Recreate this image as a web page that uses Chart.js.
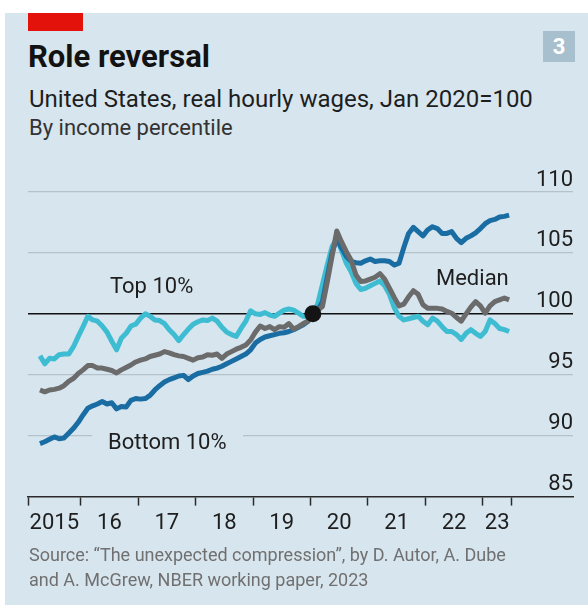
<!DOCTYPE html>
<html>
<head>
<meta charset="utf-8">
<script src="https://cdn.jsdelivr.net/npm/chart.js@4.4.1/dist/chart.umd.min.js"></script>
<style>
  html, body { margin: 0; padding: 0; background: #fff; }
  body { width: 588px; height: 610px; position: relative; overflow: hidden; font-family: Roboto, "Noto Sans", sans-serif; }
  #panel { position: absolute; left: 5px; top: 13px; width: 583px; height: 592px; background: #d7e5ee; }
  .t { position: absolute; white-space: nowrap; line-height: 1; }
  #bar { position: absolute; left: 28px; top: 13px; width: 55px; height: 18px; background: #e3120b; }
  #title { left: 28px; top: 41px; font-size: 31px; font-weight: 700; color: #121212; }
  #sub { left: 29px; top: 87px; font-size: 24px; color: #1e1e1e; }
  #sub2 { left: 29px; top: 117px; font-size: 22px; color: #333; }
  #num { position: absolute; left: 543px; top: 31px; width: 32px; height: 31px; background: #a8bfce; color: #fff; font-weight: 700; font-size: 22px; line-height: 31px; text-align: center; }
  #wrap { position: absolute; left: 0; top: 150px; width: 588px; height: 395px; }
  .lab { font-size: 22px; color: #1e1e1e; }
  #lTop { left: 110px; top: 275px; }
  #lMed { left: 436px; top: 267px; }
  #lBot { left: 92px; top: 431px; padding: 0 16px; background: #d7e5ee; }
  #src { left: 29px; top: 542px; font-size: 18px; color: #707070; line-height: 25px; }
</style>
</head>
<body>
<div id="panel"></div>
<div id="bar"></div>
<div class="t" id="title">Role reversal</div>
<div class="t" id="sub">United States, real hourly wages, Jan 2020=100</div>
<div class="t" id="sub2">By income percentile</div>
<div id="num">3</div>
<div id="wrap"><canvas id="grafico"></canvas></div>
<div class="t lab" id="lTop">Top 10%</div>
<div class="t lab" id="lMed">Median</div>
<div class="t lab" id="lBot">Bottom 10%</div>
<div class="t" id="src">Source: “The unexpected compression”, by D. Autor, A. Dube<br>and A. McGrew, NBER working paper, 2023</div>

<script>
// monthly series, first value is April 2015, last is June 2023
const startYear = 2015;
const startMonth = 4;

const top10 = [
  96.55, 95.9, 96.35, 96.3, 96.65, 96.7, 96.7, 97.3, 98.15,
  98.95, 99.8, 99.5, 99.4, 99.0, 98.5, 97.75, 97.05, 98.0, 98.4, 99.0, 99.15,
  99.65, 100.0, 99.8, 99.5, 99.45, 99.2, 98.7, 98.3, 97.8, 98.3, 98.75, 99.15,
  99.35, 99.5, 99.45, 99.65, 99.4, 98.9, 98.5, 98.3, 98.15, 98.8, 99.4, 100.25,
  100.0, 99.95, 100.1, 99.9, 99.8, 100.05, 100.3, 100.4, 100.3, 100.05, 99.8, 99.75,
  100.0, 100.8, 102.4, 104.0, 105.5, 106.2, 105.2, 104.15, 103.45, 102.5, 102.0, 102.1,
  102.3, 102.5, 102.7, 102.3, 101.6, 100.5, 99.8, 99.5, 99.6, 99.7, 99.8, 99.4,
  99.1, 99.65, 99.4, 98.95, 98.55, 98.55, 98.3, 97.9, 98.4, 98.7, 98.4, 98.15,
  98.55, 99.5, 99.2, 98.8, 98.7, 98.55
];

const median = [
  93.75, 93.6, 93.75, 93.8, 93.9, 94.1, 94.45, 94.7, 95.1,
  95.4, 95.75, 95.75, 95.55, 95.55, 95.45, 95.35, 95.15, 95.4, 95.6, 95.8, 96.05,
  96.2, 96.3, 96.5, 96.6, 96.7, 96.9, 96.8, 96.65, 96.55, 96.5, 96.35, 96.2,
  96.4, 96.45, 96.65, 96.6, 96.7, 96.35, 96.7, 96.9, 97.1, 97.25, 97.45, 97.85,
  98.5, 99.0, 98.8, 98.95, 98.7, 98.95, 98.9, 99.2, 98.75, 98.95, 99.2, 99.4,
  100.0, 100.3, 100.6, 102.6, 104.7, 106.8, 105.9, 105.1, 104.4, 103.2, 102.65, 102.7,
  102.85, 103.0, 103.3, 102.85, 102.1, 101.35, 100.65, 100.8, 101.4, 101.9, 101.6, 100.75,
  100.45, 100.45, 100.45, 100.4, 100.2, 100.05, 99.7, 99.4, 100.0, 100.55, 101.0, 100.65,
  100.05, 100.65, 101.0, 101.15, 101.3, 101.15
];

const bottom10 = [
  89.35, 89.5, 89.7, 89.9, 89.75, 89.8, 90.2, 90.6, 91.1,
  91.7, 92.25, 92.45, 92.6, 92.8, 92.6, 92.7, 92.2, 92.4, 92.35, 92.9, 93.05,
  93.0, 93.05, 93.3, 93.75, 94.1, 94.4, 94.6, 94.75, 94.9, 94.95, 94.6, 94.9,
  95.1, 95.2, 95.3, 95.45, 95.55, 95.7, 95.9, 96.1, 96.3, 96.5, 96.7, 97.05,
  97.6, 97.9, 98.1, 98.2, 98.3, 98.4, 98.45, 98.55, 98.7, 98.9, 99.1, 99.4,
  100.0, 100.3, 101.0, 103.0, 105.0, 106.2, 105.4, 104.7, 104.3, 104.2, 104.15, 104.35,
  104.5, 104.3, 104.35, 104.35, 104.3, 104.0, 104.15, 105.45, 106.6, 107.1, 106.75, 106.4,
  106.9, 107.15, 107.0, 106.6, 106.6, 106.75, 106.2, 105.85, 106.2, 106.4, 106.65, 107.0,
  107.4, 107.65, 107.75, 107.95, 108.0, 108.1
];

const yearLabels = ['2015', '16', '17', '18', '19', '20', '21', '22', '23'];
const yTicks = [85, 90, 95, 100, 105, 110];
// dated part of the axis runs from Feb 2015 to mid 2023, the rest is room for the y labels
const xStart = 2015 + 1 / 12;
const xEnd = 2023.5;
const xMax = 2024.57;

const fecha = top10.map((v, i) => startYear + (startMonth - 1 + i + 0.5) / 12);
const puntos = serie => serie.map((v, i) => ({ x: fecha[i], y: v }));

const cortes = [xStart];
for (let a = 2016; a <= 2023; a++) cortes.push(a);
cortes.push(xEnd);
const centros = [];
for (let i = 0; i < cortes.length - 1; i++) centros.push((cortes[i] + cortes[i + 1]) / 2);

const fuente = { family: 'Roboto', size: 22 };

new Chart(document.getElementById('grafico'), {
  type: 'line',
  data: {
    datasets: [
      {
        type: 'scatter',
        data: [{ x: 2020 + 0.5 / 12, y: 100 }],
        pointRadius: 8.5,
        pointBackgroundColor: '#141414',
        pointBorderWidth: 0,
        order: 0
      },
      { data: puntos(median), borderColor: '#6b6b6b', borderWidth: 5, order: 1 },
      { data: puntos(bottom10), borderColor: '#1a6da3', borderWidth: 5, order: 2 },
      { data: puntos(top10), borderColor: '#3ebcd2', borderWidth: 5, order: 3 }
    ]
  },
  options: {
    responsive: true,
    maintainAspectRatio: false,
    animation: false,
    events: [],
    elements: {
      point: { radius: 0 },
      line: { tension: 0, borderJoinStyle: 'round', borderCapStyle: 'butt' }
    },
    layout: { padding: { left: 28, right: 15, top: 42, bottom: 3 } },
    plugins: { legend: { display: false }, tooltip: { enabled: false } },
    scales: {
      x: {
        type: 'linear',
        min: xStart,
        max: xMax,
        afterBuildTicks: axis => {
          axis.ticks = cortes.concat(centros).sort((a, b) => a - b).map(v => ({ value: v }));
        },
        border: { display: true, color: '#2a2a2a', width: 1.5 },
        grid: {
          drawOnChartArea: false,
          tickLength: 9,
          tickWidth: 1.5,
          tickColor: ctx => (ctx.tick && centros.includes(ctx.tick.value)) ? 'rgba(0,0,0,0)' : '#2a2a2a'
        },
        ticks: {
          autoSkip: false,
          maxRotation: 0,
          padding: 5,
          color: '#1e1e1e',
          font: fuente,
          callback: value => {
            const i = centros.indexOf(value);
            return i >= 0 ? yearLabels[i] : '';
          }
        }
      },
      y: {
        position: 'right',
        min: 85,
        max: 110,
        afterBuildTicks: axis => {
          axis.ticks = yTicks.map(v => ({ value: v }));
        },
        border: { display: false },
        grid: {
          drawTicks: false,
          color: ctx => {
            if (ctx.tick.value === 100) return '#111';
            if (ctx.tick.value === 85) return 'rgba(0,0,0,0)';
            return '#b3c2cb';
          },
          lineWidth: ctx => ctx.tick.value === 100 ? 1.5 : 1.2
        },
        ticks: {
          mirror: true,
          padding: 0,
          labelOffset: -12,
          color: '#1e1e1e',
          font: fuente
        }
      }
    }
  }
});
</script>
</body>
</html>
